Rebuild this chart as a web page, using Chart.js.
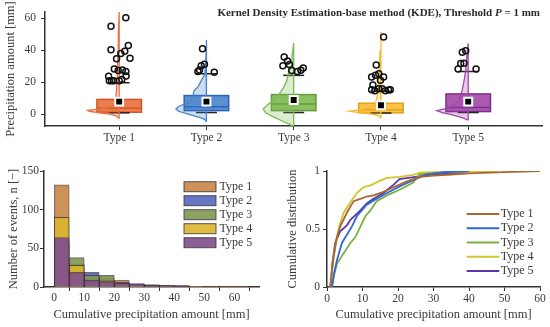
<!DOCTYPE html>
<html>
<head>
<meta charset="utf-8">
<script src="https://cdn.jsdelivr.net/npm/chart.js@4.4.1/dist/chart.umd.min.js"></script>
<style>
  html, body { margin: 0; padding: 0; background: #fff; }
  #wrap { position: relative; width: 550px; height: 327px; overflow: hidden; }
  #wrap canvas { position: absolute; }
</style>
</head>
<body>
<div id="wrap">
  <canvas id="top" width="550" height="150" style="left:0;top:0"></canvas>
  <canvas id="hist" width="270" height="167" style="left:0;top:160px"></canvas>
  <canvas id="cdf" width="280" height="167" style="left:270px;top:160px"></canvas>
</div>
<script>
// ---------- data: top panel (box + half violin per type) ----------
const typeLabels = ['Type 1', 'Type 2', 'Type 3', 'Type 4', 'Type 5']
const q1 = [1.4, 2.4, 2.4, 1.0, 1.8]
const medians = [3.8, 4.8, 6.5, 3.0, 4.4]
const q3 = [9.4, 11.8, 12.4, 7.0, 12.8]
const whiskLow = [1.0, 1.2, 1.2, 0.9, 1.2]
const whiskHigh = [19.8, 25.4, 24.4, 14.5, 26.8]
const means = [8.0, 8.0, 9.0, 5.8, 8.0]
const precipTicks = [0, 20, 40, 60]

// kernel density: levels (mm) and width (hundredths of the type spacing)
const kdeLevels = [
  [-2.6, -1, 0, 1, 2, 2.5, 3, 4, 5, 6, 8, 10, 15, 20, 25, 30, 40, 50, 64],
  [-4.6, -3, -2, 0, 2, 3.4, 5, 7, 9, 11, 13, 15, 17, 20, 25, 30, 40, 46.4],
  [-7.6, -6, -3.6, -1, 1, 3.4, 6, 8, 10.4, 14, 17.4, 21, 25.4, 30, 36, 44.4],
  [-2.4, -1, 0, 1, 2, 3, 4, 5, 7, 10, 15, 20, 25, 30, 40, 51.4],
  [-3.6, -2, 0, 1, 2.4, 3.5, 5.4, 8, 11.4, 15, 20.4, 27, 33, 40, 44.4]
]
const kdeWidth = [
  [0, 3, 9, 23, 34, 36, 29, 16, 9, 6, 5, 4, 3, 3, 2, 2, 1, 1, 0],
  [0, 2, 7, 20, 32, 35, 32, 23, 17, 15, 15, 14, 10, 7, 2, 1, 0.3, 0],
  [0, 5, 15, 25, 32, 35, 30, 25, 20, 15, 11, 8, 6, 3, 2, 0],
  [0, 2, 9, 23, 36, 23, 14, 9, 6, 5, 3, 3, 2, 2, 1, 0],
  [0, 7, 20, 29, 36, 27, 18, 12, 9, 7, 5, 3, 2, 1, 0]
]

// outliers: horizontal jitter (type spacing units) and value (mm)
const outlierJitter = [
  [0.076, -0.094, -0.094, 0.105, 0.064, 0.019, -0.030, 0.124, -0.056, 0.037, -0.011, 0.076, -0.121, 0.079, 0.030, -0.113, -0.087, -0.064, 0],
  [-0.045, -0.060, -0.023, -0.098, -0.079, 0.090],
  [-0.109, -0.071, -0.124, -0.049, -0.023, 0.042, 0.082, 0.109],
  [0.03, -0.054, -0.107, -0.062, -0.025, 0.03, -0.006, -0.093, -0.107, -0.070, -0.025, 0.014, 0.051, 0.088, 0.107],
  [-0.029, -0.068, -0.086, -0.049, -0.116, 0.090]
]
const outlierValues = [
  [60.4, 55, 40.4, 43, 39.4, 38, 34.8, 35, 28.4, 27.8, 27.4, 26.8, 23.8, 24, 21.8, 21, 21, 21, 21],
  [41, 30.4, 31.4, 26.8, 27.8, 26.4],
  [35.8, 33.4, 30.4, 31.2, 27.4, 26.8, 27.6, 29],
  [48.4, 30.8, 23.4, 24.4, 25.4, 23.4, 21.4, 18.4, 15.4, 14.8, 16, 16, 14.8, 15.2, 15.4],
  [39.8, 38.8, 31.8, 32, 28.4, 28.4]
]

// ---------- data: histogram ----------
const binCenters = [2.5, 7.5, 12.5, 17.5, 22.5, 27.5, 32.5, 37.5, 42.5, 47.5, 52.5, 57.5, 62.5]
const histCounts = [
  [132, 30, 12, 12, 9, 4, 3, 2, 2, 1, 1, 1, 1],
  [60, 25, 19, 9, 5, 3, 2, 1, 1, 0, 0, 0, 0],
  [55, 38, 15, 15, 6, 4, 2, 1, 0, 0, 0, 0, 0],
  [90, 28, 8, 8, 5, 3, 1, 1, 0, 1, 0, 0, 0],
  [64, 19, 9, 7, 5, 4, 2, 2, 1, 0, 0, 0, 0]
]
const histTicksY = [0, 50, 100, 150]
const amountTicks = [0, 10, 20, 30, 40, 50, 60]

// ---------- data: cumulative distribution ----------
const cdfX = [
  [0.9, 1.8, 2.7, 3.7, 5.6, 7.5, 9.4, 11.2, 13.1, 15.9, 18.7, 22.5, 26.2, 30, 35, 40, 50, 60],
  [1.4, 2, 2.8, 4.2, 5.6, 7, 8.4, 9.8, 11.2, 14, 16.9, 20.6, 24.3, 28, 33, 40],
  [1.4, 2, 2.8, 4.7, 6.6, 8, 9.4, 10.8, 12.2, 14, 16.9, 20.6, 24.3, 26, 30, 36],
  [0.9, 1.9, 2.8, 3.7, 4.7, 6.6, 8.4, 10.3, 12.6, 14.5, 16.9, 20.6, 24.3, 26.2, 30, 48],
  [1, 1.5, 2.3, 3.7, 5.6, 6.6, 8, 9.4, 11.2, 13.1, 15.9, 18.7, 20.4, 25, 30, 35, 40]
]
const cdfY = [
  [0, 0.25, 0.42, 0.52, 0.64, 0.74, 0.76, 0.78, 0.79, 0.82, 0.86, 0.91, 0.95, 0.96, 0.97, 0.98, 0.99, 1],
  [0, 0.12, 0.23, 0.38, 0.45, 0.52, 0.61, 0.66, 0.71, 0.76, 0.81, 0.87, 0.92, 0.97, 0.99, 1],
  [0, 0.1, 0.2, 0.29, 0.38, 0.43, 0.52, 0.61, 0.66, 0.74, 0.79, 0.84, 0.9, 0.97, 0.98, 1],
  [0, 0.26, 0.43, 0.55, 0.64, 0.73, 0.81, 0.86, 0.88, 0.91, 0.94, 0.95, 0.966, 0.985, 0.99, 1],
  [0, 0.2, 0.38, 0.48, 0.53, 0.58, 0.62, 0.66, 0.72, 0.76, 0.81, 0.88, 0.93, 0.95, 0.97, 0.98, 1]
]
const cdfTicks = [0, 0.5, 1]

// ---------- styles ----------
const serif = "'Liberation Serif', 'DejaVu Serif', serif"
const axisCol = '#333'
const textCol = '#3a3a3a'
const typeRgb = ['232,112,62', '72,132,206', '126,186,82', '246,188,52', '162,72,168']
const edgeRgb = ['214,86,36', '40,100,182', '96,156,56', '228,162,26', '126,46,138']
const histFill = ['rgba(198,134,70,0.9)', 'rgba(88,104,188,0.9)', 'rgba(126,152,82,0.9)', 'rgba(220,182,46,0.9)', 'rgba(128,76,140,0.9)']
const cdfCol = ['#a9662f', '#2f68d6', '#7ab043', '#d3c42b', '#5b37a9']

Chart.defaults.font.family = serif
Chart.defaults.color = textCol
Chart.defaults.animation = false
Chart.defaults.plugins.legend.display = false
Chart.defaults.plugins.tooltip.enabled = false

function axisStyle(extra) {
  return Object.assign({
    grid: { display: true, drawOnChartArea: false, drawTicks: true, tickLength: 4, color: axisCol, lineWidth: 1 },
    border: { display: true, color: axisCol, width: 1.5 },
  }, extra)
}
function fixTicks(list) {
  return function (s) { s.ticks = list.map(v => ({ value: v })) }
}

// ---------- top panel ----------
const boxHalf = 0.255
const capHalf = 0.12

const boxPlugin = {
  id: 'boxes',
  beforeDatasetsDraw(chart) {
    const { ctx, scales: { x, y } } = chart
    ctx.save()
    for (let i = 0; i < typeLabels.length; i++) {
      const c = i + 1
      const l = x.getPixelForValue(c - boxHalf), r = x.getPixelForValue(c + boxHalf)
      const t = y.getPixelForValue(q3[i]), b = y.getPixelForValue(q1[i])
      ctx.fillStyle = 'rgba(' + typeRgb[i] + ',0.9)'
      ctx.fillRect(l, t, r - l, b - t)
      ctx.strokeStyle = 'rgb(' + edgeRgb[i] + ')'
      ctx.lineWidth = 1.5
      ctx.strokeRect(l, t, r - l, b - t)
      const m = y.getPixelForValue(medians[i])
      ctx.beginPath(); ctx.moveTo(l, m); ctx.lineTo(r, m); ctx.stroke()
      // whisker caps
      ctx.strokeStyle = '#222'
      ctx.lineWidth = 1.5
      const cl = x.getPixelForValue(c - capHalf), cr = x.getPixelForValue(c + capHalf)
      for (const v of [whiskLow[i], whiskHigh[i]]) {
        const py = y.getPixelForValue(v)
        ctx.beginPath(); ctx.moveTo(cl, py); ctx.lineTo(cr, py); ctx.stroke()
      }
    }
    ctx.restore()
  }
}

const titlePlugin = {
  id: 'kdeTitle',
  afterDraw(chart) {
    const ctx = chart.ctx
    const parts = [
      ['Kernel Density Estimation-base method (KDE), Threshold ', 'bold 11px ' + serif],
      ['P', 'italic bold 11px ' + serif],
      [' = 1 mm', 'bold 11px ' + serif]
    ]
    ctx.save()
    let w = 0
    parts.forEach(p => { ctx.font = p[1]; w += ctx.measureText(p[0]).width })
    let px = 540 - w
    ctx.fillStyle = '#2a2a2a'
    ctx.textBaseline = 'alphabetic'
    parts.forEach(p => { ctx.font = p[1]; ctx.fillText(p[0], px, 16); px += ctx.measureText(p[0]).width })
    ctx.restore()
  }
}

const topSets = []
typeLabels.forEach((name, i) => {
  const c = i + 1
  const pts = kdeLevels[i].map((v, k) => ({ x: c - kdeWidth[i][k] / 100, y: v }))
  pts.push({ x: c, y: kdeLevels[i][0] })
  topSets.push({
    label: name + ' KDE',
    data: pts,
    borderColor: 'rgb(' + typeRgb[i] + ')',
    backgroundColor: 'rgba(' + typeRgb[i] + ',0.28)',
    borderWidth: 1.3,
    pointRadius: 0,
    tension: 0,
    fill: 'shape',
    order: 3
  })
})
topSets.push({
  label: 'mean',
  data: means.map((v, i) => ({ x: i + 1, y: v })),
  showLine: false,
  pointStyle: 'rect',
  pointRadius: 5.6,
  backgroundColor: '#000',
  borderColor: '#fff',
  borderWidth: 2,
  order: 2
})
topSets.push({
  label: 'outliers',
  data: outlierValues.flatMap((vals, i) => vals.map((v, k) => ({ x: i + 1 + outlierJitter[i][k], y: v }))),
  showLine: false,
  pointStyle: 'circle',
  pointRadius: 3,
  backgroundColor: 'rgba(255,255,255,0)',
  borderColor: '#111',
  borderWidth: 1.5,
  order: 1
})

new Chart(document.getElementById('top'), {
  type: 'line',
  data: { datasets: topSets },
  options: {
    responsive: false,
    devicePixelRatio: 1,
    layout: { padding: { top: 7, right: 1, left: 0, bottom: 0 } },
    scales: {
      x: axisStyle({
        type: 'linear', min: 0.15, max: 5.85,
        afterBuildTicks: fixTicks([1, 2, 3, 4, 5]),
        afterFit(s) { s.height = 24 },
        ticks: { font: { size: 11.5 }, padding: 1, maxRotation: 0, callback: v => typeLabels[v - 1] }
      }),
      y: axisStyle({
        min: -7.2, max: 64,
        afterBuildTicks: fixTicks(precipTicks),
        afterFit(s) { s.width = 45 },
        ticks: { font: { size: 11.5 }, padding: 5 },
        title: { display: true, text: 'Precipitation amount [mm]', font: { size: 12.5 }, padding: { top: 3.5, bottom: 0 } }
      })
    }
  },
  plugins: [boxPlugin, titlePlugin]
})

// ---------- histogram ----------
const histLegend = {
  id: 'histLegend',
  afterDraw(chart) {
    const { ctx, chartArea } = chart
    ctx.save()
    ctx.font = '12px ' + serif
    ctx.textBaseline = 'middle'
    typeLabels.forEach((name, i) => {
      const bx = chartArea.right - 75, cy = chartArea.top + 15.7 + i * 14
      ctx.fillStyle = histFill[i]
      ctx.fillRect(bx, cy - 5, 32, 10)
      ctx.strokeStyle = 'rgba(60,45,55,0.8)'
      ctx.lineWidth = 1
      ctx.strokeRect(bx, cy - 5, 32, 10)
      ctx.fillStyle = textCol
      ctx.fillText(name, bx + 35.5, cy)
    })
    ctx.restore()
  }
}

new Chart(document.getElementById('hist'), {
  type: 'bar',
  data: {
    datasets: histCounts.map((counts, i) => ({
      label: typeLabels[i],
      data: counts.map((v, k) => ({ x: binCenters[k], y: v })),
      backgroundColor: histFill[i],
      borderColor: 'rgba(60,45,55,0.7)',
      borderWidth: 1,
      borderSkipped: 'start',
      grouped: false,
      barPercentage: 1,
      categoryPercentage: 1,
      order: 5 - i
    }))
  },
  options: {
    responsive: false,
    devicePixelRatio: 1,
    layout: { padding: { top: 11, right: 11, left: 0, bottom: 0 } },
    scales: {
      x: axisStyle({
        type: 'linear', min: -3.4, max: 68.2, offset: false,
        afterBuildTicks: fixTicks(amountTicks),
        afterFit(s) { s.height = 40 },
        ticks: { font: { size: 11.5 }, padding: 0, maxRotation: 0 },
        title: { display: true, text: 'Cumulative precipitation amount [mm]', font: { size: 12.5 }, padding: { top: 0, bottom: 4.5 } }
      }),
      y: axisStyle({
        min: 0, max: 150,
        afterBuildTicks: fixTicks(histTicksY),
        afterFit(s) { s.width = 44 },
        ticks: { font: { size: 11.5 }, padding: 1 },
        title: { display: true, text: 'Number of events, n [\u2212]', font: { size: 12.5 }, padding: { top: 6.5, bottom: 0 } }
      })
    }
  },
  plugins: [histLegend]
})

// ---------- cumulative distribution ----------
const cdfLegend = {
  id: 'cdfLegend',
  afterDraw(chart) {
    const { ctx, chartArea } = chart
    ctx.save()
    ctx.font = '12px ' + serif
    ctx.textBaseline = 'middle'
    typeLabels.forEach((name, i) => {
      const lx = chartArea.right - 73.3, cy = chartArea.top + 43 + i * 14.25
      ctx.strokeStyle = cdfCol[i]
      ctx.lineWidth = 2
      ctx.beginPath(); ctx.moveTo(lx, cy); ctx.lineTo(lx + 32.6, cy); ctx.stroke()
      ctx.fillStyle = textCol
      ctx.fillText(name, lx + 34, cy)
    })
    ctx.restore()
  }
}

new Chart(document.getElementById('cdf'), {
  type: 'line',
  data: {
    datasets: cdfX.map((xs, i) => ({
      label: typeLabels[i],
      data: xs.map((v, k) => ({ x: v, y: cdfY[i][k] })),
      borderColor: cdfCol[i],
      borderWidth: 1.8,
      pointRadius: 0,
      tension: 0,
      fill: false
    }))
  },
  options: {
    responsive: false,
    devicePixelRatio: 1,
    layout: { padding: { top: 11, right: 10, left: 0, bottom: 0 } },
    scales: {
      x: axisStyle({
        type: 'linear', min: 0, max: 60,
        afterBuildTicks: fixTicks(amountTicks),
        afterFit(s) { s.height = 40 },
        ticks: { font: { size: 11.5 }, padding: 1, maxRotation: 0 },
        title: { display: true, text: 'Cumulative precipitation amount [mm]', font: { size: 12.5 }, padding: { top: 0, bottom: 4.5 } }
      }),
      y: axisStyle({
        min: 0, max: 1,
        afterBuildTicks: fixTicks(cdfTicks),
        afterFit(s) { s.width = 57 },
        ticks: { font: { size: 11.5 }, padding: 3, callback: v => String(v) },
        title: { display: true, text: 'Cumulative distribution', font: { size: 12.5 }, padding: { top: 15.5, bottom: 0 } }
      })
    }
  },
  plugins: [cdfLegend]
})
</script>
</body>
</html>
